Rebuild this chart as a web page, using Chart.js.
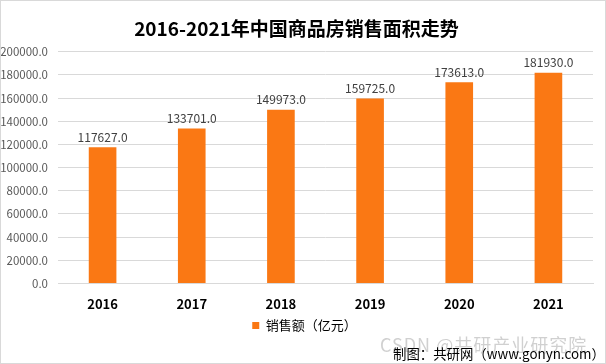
<!DOCTYPE html>
<html><head><meta charset="utf-8">
<script src="https://cdn.jsdelivr.net/npm/chart.js@4/dist/chart.umd.min.js"></script>
<style>
html,body{margin:0;padding:0;background:#fff;}
#wrap{position:relative;width:606px;height:364px;overflow:hidden;}
#frame{position:absolute;left:0;top:0;width:604px;height:362px;border:1px solid #d9d9d9;pointer-events:none;}
canvas{position:absolute;left:0;top:0;}
.wm{position:absolute;left:380px;top:331px;font-family:"Noto Sans CJK SC",sans-serif;font-size:18px;color:rgba(150,150,150,0.45);white-space:nowrap;letter-spacing:1px;}
.ft{position:absolute;left:393px;top:343px;font-family:"Noto Sans CJK SC",sans-serif;font-size:13.4px;color:#000;white-space:nowrap;}
</style></head>
<body>
<div id="wrap">
<canvas id="c" width="606" height="364"></canvas>
<div class="wm">CSDN @共研产业研究院</div>
<div class="ft">制图：共研网（www.gonyn.com）</div>
<div id="frame"></div>
</div>
<script>
const titleText = "2016-2021年中国商品房销售面积走势";
const categories = ["2016","2017","2018","2019","2020","2021"];
const seriesName = "销售额（亿元）";
const salesValues = [117627.0, 133701.0, 149973.0, 159725.0, 173613.0, 181930.0];
const yTicks = [0,20000,40000,60000,80000,100000,120000,140000,160000,180000,200000];

const FONT = '"Noto Sans CJK SC", "Microsoft YaHei", sans-serif';
const ORANGE = '#fa7814';

const dataLabels = {
  id: 'dataLabels',
  afterDatasetsDraw(chart) {
    const ctx = chart.ctx;
    ctx.save();
    ctx.font = '12px ' + FONT;
    ctx.fillStyle = '#404040';
    ctx.textAlign = 'center';
    ctx.textBaseline = 'bottom';
    chart.data.datasets.forEach((ds, i) => {
      chart.getDatasetMeta(i).data.forEach((bar, j) => {
        ctx.fillText(ds.data[j].toFixed(1), bar.x, bar.y - 4);
      });
    });
    ctx.restore();
  }
};

const legendShift = {
  id: 'legendShift',
  afterLayout(chart) {
    if (chart.legend) { chart.legend.left += 8; chart.legend.right += 8; }
  }
};

new Chart(document.getElementById('c'), {
  type: 'bar',
  data: {
    labels: categories,
    datasets: [{
      label: seriesName,
      data: salesValues,
      backgroundColor: ORANGE,
      borderWidth: 0,
      categoryPercentage: 1.0,
      barPercentage: 0.31
    }]
  },
  options: {
    responsive: false,
    animation: false,
    devicePixelRatio: 1,
    layout: { padding: { left: 0, right: 13, top: 0, bottom: 22 } },
    plugins: {
      title: {
        display: true,
        text: titleText,
        color: '#000',
        font: { family: FONT, size: 19, weight: 'bold', lineHeight: 1.2 },
        padding: { top: 17, bottom: 12 }
      },
      legend: {
        display: true,
        position: 'bottom',
        labels: {
          color: '#000',
          font: { family: FONT, size: 13 },
          boxWidth: 7,
          boxHeight: 7,
          padding: 0
        }
      },
      tooltip: { enabled: false }
    },
    scales: {
      x: {
        grid: { display: false, drawTicks: false },
        border: { display: true, color: '#d9d9d9' },
        afterFit(scale) { scale.height = 35.5; },
        ticks: { color: '#000', font: { family: FONT, size: 13, weight: 'bold' }, padding: 13 }
      },
      y: {
        min: 0, max: 200000,
        afterBuildTicks(scale) { scale.ticks = yTicks.map(v => ({ value: v })); },
        afterFit(scale) { scale.width = 58; },
        grid: { color: '#d9d9d9', drawTicks: false },
        border: { display: false },
        ticks: {
          color: '#595959',
          font: { family: FONT, size: 11.5 },
          padding: 10,
          callback: v => Number(v).toFixed(1)
        }
      }
    }
  },
  plugins: [dataLabels, legendShift]
});
</script>
</body></html>
